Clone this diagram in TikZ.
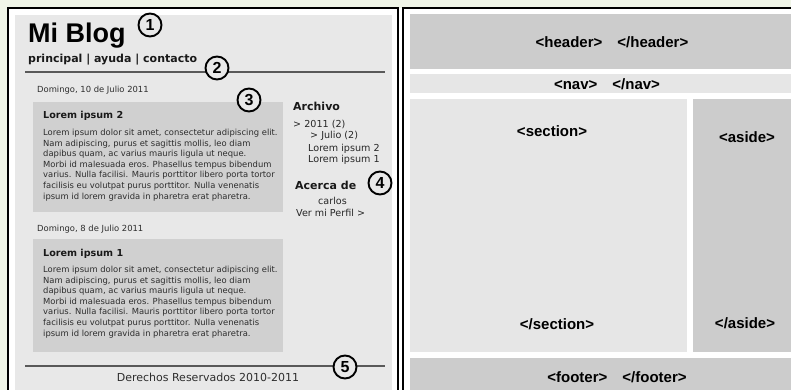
\documentclass[tikz,border=0pt]{standalone}
\usepackage{fontspec}
\setmainfont{DejaVu Sans}
\newfontfamily\tagfont{Liberation Sans}
\definecolor{fondo}{RGB}{240,245,232}
\definecolor{panel}{RGB}{232,232,232}
\definecolor{caja}{RGB}{208,208,208}
\definecolor{oscuro}{RGB}{204,204,204}
\definecolor{claro}{RGB}{230,230,230}
\definecolor{texto}{RGB}{45,45,45}
\newcommand{\textolorem}{Lorem ipsum dolor sit amet, consectetur adipiscing elit.\\
Nam adipiscing, purus et sagittis mollis, leo diam\\
dapibus quam, ac varius mauris ligula ut neque.\\
Morbi id malesuada eros. Phasellus tempus bibendum\\
varius. Nulla facilisi. Mauris porttitor libero porta tortor\\
facilisis eu volutpat purus porttitor. Nulla venenatis\\
ipsum id lorem gravida in pharetra erat pharetra.}

\begin{document}
\begin{tikzpicture}[
		x=1pt, y=-1pt,
		marco/.style={draw=black, line width=2.5pt, fill=white},
		numero/.style={circle, draw=black, line width=1.9pt, fill=panel, minimum size=23pt, inner sep=0pt, font=\tagfont\bfseries\fontsize{16}{16}\selectfont},
		etiqueta/.style={inner sep=0pt, font=\tagfont\bfseries\fontsize{15}{15}\selectfont},
		fecha/.style={anchor=base west, inner sep=0pt, font=\fontsize{8.4}{10}\selectfont, text=texto},
		titulo/.style={anchor=base west, inner sep=0pt, font=\bfseries\fontsize{9.6}{11}\selectfont, text=black!90},
		cuerpo/.style={anchor=north west, inner sep=0pt, align=left, font=\fontsize{8.4}{10.6}\selectfont, text=texto},
		lateral/.style={anchor=base west, inner sep=0pt, font=\fontsize{9.6}{11}\selectfont, text=black!85},
		seccion/.style={anchor=base west, inner sep=0pt, font=\bfseries\fontsize{11}{13}\selectfont, text=black!90},
		separador/.style={draw=black!65, line width=1.2pt}
		]
		\clip (0,0) rectangle (791,390);
		\fill[fondo] (0,0) rectangle (791,390);
		\fill[white] (8,8) rectangle (791,400);
		\draw[marco] (8,8) rectangle (398,400);
		\fill[panel] (15,15) rectangle (392,400);
		\draw[marco] (403,8) rectangle (800,400);

		\fill[oscuro] (410,14) rectangle (800,69);
		\fill[claro] (410,74) rectangle (800,93);
		\fill[claro] (410,99) rectangle (687,352);
		\fill[oscuro] (693,99) rectangle (800,352);
		\fill[oscuro] (410,358) rectangle (800,400);

		\node[etiqueta] (header) at (612,42) {<header>\quad</header>};
		\node[etiqueta] (nav) at (607,84) {<nav>\quad</nav>};
		\node[etiqueta] (section) at (552,131) {<section>};
		\node[etiqueta] (sectionfin) at (557,324) {</section>};
		\node[etiqueta] (aside) at (747,137) {<aside>};
		\node[etiqueta] (asidefin) at (745,323) {</aside>};
		\node[etiqueta] (footer) at (617,377) {<footer>\quad</footer>};

		\node[anchor=base west, inner sep=0pt, font=\tagfont\bfseries\fontsize{27}{27}\selectfont] (blog) at (28,43) {Mi Blog};
		\node[seccion] (menu) at (28,63) {principal | ayuda | contacto};
		\coordinate (navizq) at (25,72);
		\coordinate (navder) at (385,72);
		\draw[separador] (navizq) -- (navder);
		\node[numero] (n1) at (150,25) {1};
		\node[numero] (n2) at (217,68) {2};

		\node[fecha] (fecha1) at (37,93) {Domingo, 10 de Julio 2011};
		\fill[caja] (33,102) rectangle (283,212);
		\node[numero] (n3) at (249,100) {3};
		\node[titulo] (post2) at (43,119) {Lorem ipsum 2};
		\node[cuerpo] (texto2) at (43,129) {\textolorem};

		\node[seccion] (archivo) at (293,111) {Archivo};
		\node[lateral] (anio) at (293,128) {> 2011 (2)};
		\node[lateral] (mes) at (310,139) {> Julio (2)};
		\node[lateral] (entrada2) at (308,151) {Lorem ipsum 2};
		\node[lateral] (entrada1) at (308,162.5) {Lorem ipsum 1};
		\node[seccion] (acerca) at (295,189) {Acerca de};
		\node[numero] (n4) at (380,183) {4};
		\node[lateral] (autor) at (318,204) {carlos};
		\node[lateral] (perfil) at (296,216) {Ver mi Perfil >};

		\node[fecha] (fecha2) at (37,231) {Domingo, 8 de Julio 2011};
		\fill[caja] (33,239) rectangle (283,352);
		\node[titulo] (post1) at (43,256) {Lorem ipsum 1};
		\node[cuerpo] (texto1) at (43,266) {\textolorem};

		\coordinate (pieizq) at (25,366);
		\coordinate (pieder) at (385,366);
		\draw[separador] (pieizq) -- (pieder);
		\node[numero] (n5) at (345,367) {5};
		\node[anchor=base, inner sep=0pt, font=\fontsize{11}{13}\selectfont, text=texto] (derechos) at (208,381) {Derechos Reservados 2010-2011};
\end{tikzpicture}
\end{document}
